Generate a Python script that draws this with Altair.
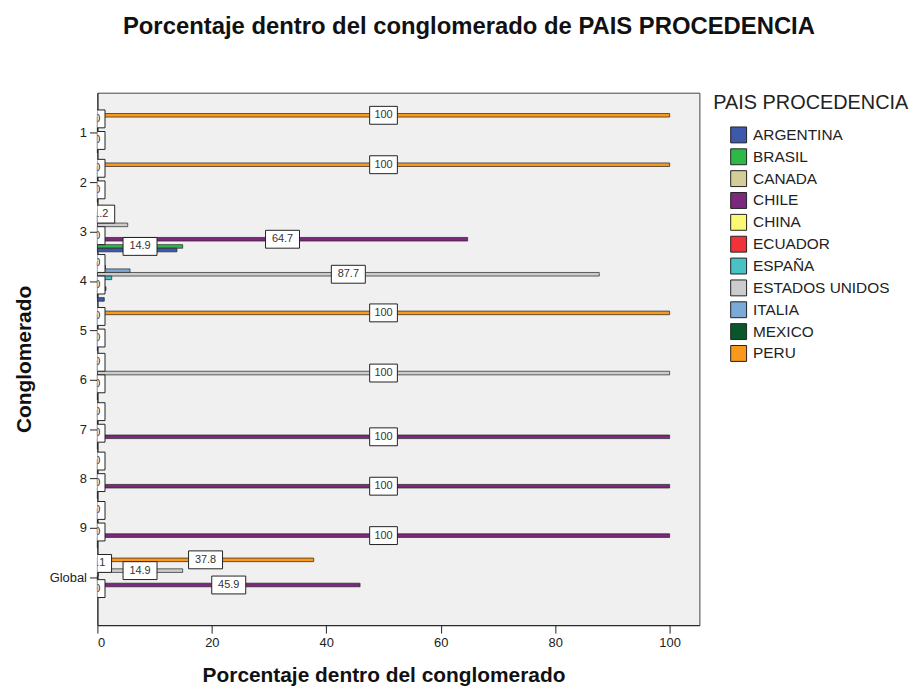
import altair as alt
import pandas as pd

conglomerados = ["1", "2", "3", "4", "5", "6", "7", "8", "9", "Global"]
paises = ["ARGENTINA", "BRASIL", "CANADA", "CHILE", "CHINA", "ECUADOR",
          "ESPAÑA", "ESTADOS UNIDOS", "ITALIA", "MEXICO", "PERU"]
colores = ["#3E58AC", "#2EB848", "#D3CE97", "#7C287D", "#FBF873", "#EF3338",
           "#48C2C5", "#CCCCCC", "#7AAAD5", "#0A562C", "#F8981D"]

# porcentaje dentro del conglomerado, one list per country (clusters 1..9, Global)
argentina = [0, 0, 13.9, 1.2, 0, 0, 0, 0, 0, 0.4]
brasil = [0, 0, 14.9, 0, 0, 0, 0, 0, 0, 0.5]
canada = [0, 0, 0, 0, 0, 0, 0, 0, 0, 0]
chile = [0, 0, 64.7, 1.5, 0, 0, 100, 100, 100, 45.9]
china = [0, 0, 0, 0, 0, 0, 0, 0, 0, 0]
ecuador = [0, 0, 0, 0, 0, 0, 0, 0, 0, 0]
espana = [0, 0, 0, 2.5, 0, 0, 0, 0, 0, 0.2]
eeuu = [0, 0, 5.3, 87.7, 0, 100, 0, 0, 0, 14.9]
italia = [0, 0, 0, 5.7, 0, 0, 0, 0, 0, 0.2]
mexico = [0, 0, 0, 1.4, 0, 0, 0, 0, 0, 0.1]
peru = [100, 100, 1.2, 0, 100, 0, 0, 0, 0, 37.8]

series = [argentina, brasil, canada, chile, china, ecuador,
          espana, eeuu, italia, mexico, peru]

PLOT_W, PLOT_H = 606, 536
X_MAX = 105.2
px_per_unit = PLOT_W / X_MAX

rows = []
for ci, cong in enumerate(conglomerados):
    shown = []
    # labels placed greedily from the top bar (PERU) downward, skipping overlaps
    for pi in reversed(range(len(paises))):
        v = series[pi][ci]
        txt = f"{v:.1f}".rstrip("0").rstrip(".")
        w = len(txt) * 6.3 + 9          # label box width in px
        cx = v / 2 * px_per_unit
        ok = all(not (abs(pi - s[0]) < 6 and abs(cx - s[1]) < (w + s[2]) / 2)
                 for s in shown)
        if ok:
            shown.append((pi, cx, w))
        a = w / 10.0                    # symbol scale: size 100 -> 5 px per unit
        path = f"M{-a:.2f},-1.8L{a:.2f},-1.8L{a:.2f},1.8L{-a:.2f},1.8Z"
        rows.append({"cong": cong, "pais": paises[pi], "valor": v, "mid": v / 2,
                     "label": txt, "box": path, "show": ok})
df = pd.DataFrame(rows)

font = "Liberation Sans"
y_enc = alt.Y("cong:N", sort=conglomerados,
              scale=alt.Scale(paddingInner=0.2, paddingOuter=0.49, align=0.43),
              axis=alt.Axis(title="Conglomerado", tickSize=8, labelPadding=3,
                            titlePadding=15))
yoff = alt.YOffset("pais:N", sort=list(reversed(paises)),
                   scale=alt.Scale(paddingInner=0, paddingOuter=0))
x_scale = alt.Scale(domain=[0, X_MAX], nice=False, zero=True)

bars = alt.Chart(df).mark_bar(stroke="#222", strokeWidth=0.7).encode(
    x=alt.X("valor:Q", scale=x_scale,
            axis=alt.Axis(title="Porcentaje dentro del conglomerado",
                          values=[0, 20, 40, 60, 80, 100], tickSize=8,
                          labelPadding=3, titlePadding=16, titleX=288)),
    y=y_enc,
    yOffset=yoff,
    color=alt.Color("pais:N", sort=paises,
                    scale=alt.Scale(domain=paises, range=colores),
                    legend=alt.Legend(title="PAIS PROCEDENCIA")),
)

labels_df = alt.Chart(df).transform_filter("datum.show")

boxes = labels_df.mark_point(filled=True, fill="white", stroke="#222",
                             strokeWidth=1, opacity=1, size=100,
                             clip=True).encode(
    x=alt.X("mid:Q", scale=x_scale),
    y=y_enc,
    yOffset=yoff,
    shape=alt.Shape("box:N", scale=None, legend=None),
)

texts = labels_df.mark_text(font=font, fontSize=11, fill="#333333",
                            clip=True).encode(
    x=alt.X("mid:Q", scale=x_scale),
    y=y_enc,
    yOffset=yoff,
    text="label:N",
)

chart = alt.layer(bars, boxes, texts).properties(
    width=PLOT_W, height=PLOT_H,
    title=alt.TitleParams("Porcentaje dentro del conglomerado de PAIS PROCEDENCIA",
                          font=font, fontSize=24, fontWeight="bold",
                          color="#111", offset=54, anchor="middle", dx=71),
    padding={"left": 5, "top": 5, "right": 0, "bottom": 0},
).configure_view(
    stroke="#444", strokeWidth=1, fill="#F0F0F0"
).configure_axis(
    grid=False, domainColor="#222", tickColor="#222", labelColor="#222",
    labelFont=font, labelFontSize=13, titleFont=font, titleFontSize=21,
    titleFontWeight="bold", titleColor="#111"
).configure_legend(
    titleFont=font, titleFontSize=20, titleFontWeight="normal", titleColor="#222",
    titleLimit=400, labelLimit=300,
    labelFont=font, labelFontSize=15.5, labelColor="#222",
    symbolType="square", symbolSize=256, symbolStrokeColor="#222",
    symbolStrokeWidth=1, symbolOpacity=1, rowPadding=1, offset=14,
    symbolOffset=17, padding=0, titlePadding=14, labelOffset=6
)

chart.save("out.html", embed_options={"renderer": "svg", "actions": False})
